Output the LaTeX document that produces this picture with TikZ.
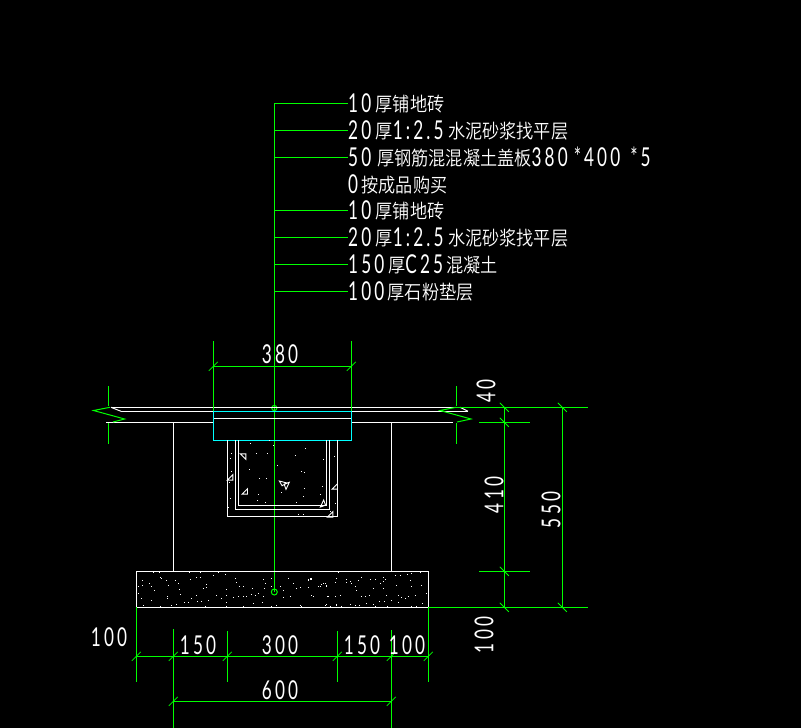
\documentclass[tikz,border=0pt]{standalone}
\usepackage{fontspec}
\newfontfamily\dgfont[FakeStretch=0.66,LetterSpace=12]{Lato}
\newfontfamily\zhfont[FakeStretch=0.88]{Noto Sans CJK SC DemiLight}
\newcommand{\dg}[1]{{\dgfont\fontsize{26}{26}\selectfont #1}}
\newcommand{\zh}[1]{\raisebox{1.5pt}{\zhfont\fontsize{19.5}{20}\selectfont #1}}
\tikzset{
  grn/.style={draw=green,line width=1pt},
  wht/.style={draw=white,line width=1pt},
  cyn/.style={draw=cyan,line width=1pt},
  labeltxt/.style={text=white,inner sep=0pt,anchor=base west},
  dimtxt/.style={text=white,inner sep=0pt,anchor=center},
  vdimtxt/.style={text=white,inner sep=0pt,anchor=center,rotate=90},
}
\definecolor{green}{RGB}{0,255,0}
\definecolor{cyan}{RGB}{0,255,255}
\newcommand{\tkA}[1]{\draw[grn,line width=.8pt] ($(#1)+(-4.5,4.5)$) -- ($(#1)+(4.5,-4.5)$);}
\newcommand{\tkB}[1]{\draw[grn,line width=.8pt] ($(#1)+(-4.5,-4.5)$) -- ($(#1)+(4.5,4.5)$);}
\usetikzlibrary{calc}
\begin{document}
\begin{tikzpicture}[x=1pt,y=-1pt]
\fill[black] (0,0) rectangle (801,728);
\useasboundingbox (0,0) rectangle (801,728);
% leaders
\foreach \n/\y in {1/103,2/130,3/157,4/210,5/237,6/264,7/291}{\coordinate (s\n) at (274.3,\y);}
\coordinate (stemb) at (274.3,592);
\coordinate (stemm) at (274.3,408);
\node[labeltxt] (l1) at (348,112.5) {\dg{10}\hspace{4.5pt}\zh{厚铺地砖}};
\node[labeltxt] (l2) at (348,139.5) {\dg{20}\hspace{4.5pt}\zh{厚}\dg{1:2.5}\hspace{4.5pt}\zh{水泥砂浆找平层}};
\node[labeltxt] (l3) at (348,166.5) {\dg{50}\hspace{6pt}\zh{厚钢筋混混凝土盖板}\dg{380}\hspace{6pt}\dg{*400}\hspace{10pt}\dg{*5}};
\node[labeltxt] (l3b) at (348,193.5) {\dg{0}\hspace{3.5pt}\zh{按成品购买}};
\node[labeltxt] (l4) at (348,219.5) {\dg{10}\hspace{4.5pt}\zh{厚铺地砖}};
\node[labeltxt] (l5) at (348,246.5) {\dg{20}\hspace{4.5pt}\zh{厚}\dg{1:2.5}\hspace{4.5pt}\zh{水泥砂浆找平层}};
\node[labeltxt] (l6) at (348,273.5) {\dg{150}\hspace{4pt}\zh{厚}\dg{C25}\hspace{3.5pt}\zh{混凝土}};
\node[labeltxt] (l7) at (348,300.5) {\dg{100}\hspace{3.5pt}\zh{厚石粉垫层}};
\draw[grn] (s1) -- (stemb);
\draw[grn] (s1) -- (s1 -| l1.west);
\draw[grn] (s2) -- (s2 -| l2.west);
\draw[grn] (s3) -- (s3 -| l3.west);
\draw[grn] (s4) -- (s4 -| l4.west);
\draw[grn] (s5) -- (s5 -| l5.west);
\draw[grn] (s6) -- (s6 -| l6.west);
\draw[grn] (s7) -- (s7 -| l7.west);
\draw[grn] (stemb) circle (3);
\draw[grn] (stemm) circle (2.6);
% slab
\draw[wht] (112,407.3) -- (458,407.3);
\draw[wht] (121,411.3) -- (213.3,411.3);
\draw[wht] (351.3,411.3) -- (468,411.3);
\draw[wht] (213.3,418.3) -- (351.3,418.3);
\draw[wht] (106,422.3) -- (213.3,422.3);
\draw[wht] (351.3,422.3) -- (453,422.3);
\draw[wht] (213.3,407.3) -- (213.3,411.3);
\draw[wht] (351.3,407.3) -- (351.3,411.3);
\draw[wht] (111,407.3) -- (121,411.3);
\draw[wht] (460,407.3) -- (468,411.3);
\draw[cyn] (213.3,411.3) -- (213.3,440.3) -- (351.3,440.3) -- (351.3,411.3) -- cycle;
% walls
\draw[wht] (173.3,422.3) -- (173.3,571.3);
\draw[wht] (391.3,422.3) -- (391.3,571.3);
% trough
\draw[wht] (227.3,440.3) |- (337.7,516.3) -- (337.7,440.3);
\draw[wht] (235.3,440.3) |- (329.7,509.3) -- (329.7,440.3);
\draw[wht] (238.3,440.3) |- (326.3,505.3) -- (326.3,440.3);
\foreach \x/\y in {106/40,49/70,45/85,124/70,157/70,49/125,43/157,103/118,133/145,154/145,187/106,241/76,271/55,325/88,259/124,268/127,358/79,268/175,199/187,130/193,127/211,151/217,46/205,244/217,265/199,322/169,316/193,361/220,250/253,265/253,346/244,40/232,175/46,163/31}
  \fill[white] ({215+\x/3-.5},{430+\y/3-.5}) rectangle ++(1,1);
\foreach \x/\y/\a in {85/79/90,46/143/0,90/185/0,204/157/300,217/167/200,322/221/20,360/170/0,346/254/0}
  \draw[white,line width=.9pt,rotate around={\a:({215+\x/3},{430+\y/3})}] ({215+\x/3+2.5},{430+\y/3-3}) -- ({215+\x/3-3},{430+\y/3+2.5}) -- ({215+\x/3+2.5},{430+\y/3+2.5}) -- cycle;
% base
\draw[wht] (136.3,571.3) rectangle (428.3,607.3);
\foreach \x/\y in {220/97,238/97,328/97,360/97,415/97,435/102,400/106,240/112,245/115,260/122,285/122,330/118,350/112,360/112,465/115,470/127,478/139,490/140,188/120,175/138,188/135,208/130,215/140,222/151,265/135,295/130,298/148,300/163,380/132,378/143,370/145,440/148,518/145,535/160,515/162,525/166,575/115,550/118,555/130,575/140,552/145,600/140,610/150,625/115,640/130,650/145,660/142,690/118,685/120,695/115,720/140,730/130,738/135,745/168,175/160,185/175,215/182,262/168,262/175,350/165,335/176,352/184,365/183,385/181,312/188,325/186,290/193,275/195,240/200,190/195,440/165,425/175,410/165,438/188,460/172,475/170,490/168,500/170,550/170,548/188,520/190,490/198,440/198,375/198,660/195,665/200,737/195,770/195,630/168,610/172,700/168,590/195,575/198}
  \fill[white] ({80+\x/3-.5},{540+\y/3-.5}) rectangle ++(1,1);
\foreach \x/\y in {30/115,25/118,35/118,110/115,140/118,150/125,155/130,138/128,185/112,175/120,210/118,225/118,240/130,250/112,255/118,250/125,285/105,300/105,322/103,335/100,360/97,115/97,75/130,65/133,55/140,78/140,105/128,165/140,170/152,25/143,220/145,250/145,290/137,330/120,335/138,365/135,35/165,82/168,120/167,105/168,185/168,208/166,195/170,258/166,295/167,305/172,315/175,325/168,345/165,380/160,80/193,90/198,110/193,125/198,150/193,165/196,178/195,200/190,220/193,225/198,238/183,252/183,275/180,295/187,262/198,335/198,350/198,367/190,0/143}
  \fill[white] ({300+\x/3-.5},{540+\y/3-.5}) rectangle ++(1,1);
% break marks
\draw[grn] (108.3,386) -- (108.3,406);
\draw[grn] (108.3,423) -- (108.3,443.7);
\draw[grn] (110,407.3) -- (93.5,410.5) -- (124.6,419) -- (113,422);
\draw[grn] (456.3,386) -- (456.3,406);
\draw[grn] (456.3,423) -- (456.3,443.7);
\draw[grn] (456,407.3) -- (440,410.5) -- (471,419) -- (457,422);
% top dimension 380
\coordinate (a1) at (213.3,366.3); \coordinate (a2) at (351.3,366.3);
\draw[grn] (213.3,341) -- (213.3,411.3);
\draw[grn] (351.3,341) -- (351.3,411.3);
\draw[grn] (a1) -- (a2);
\tkA{a1} \tkA{a2}
\node[dimtxt] (t380) at (280,354) {\dg{380}};
% bottom dimensions
\coordinate (b0) at (136.3,656.3); \coordinate (b1) at (173.3,656.3); \coordinate (b2) at (227.3,656.3);
\coordinate (b3) at (337.3,656.3); \coordinate (b4) at (391.3,656.3); \coordinate (b5) at (428.3,656.3);
\coordinate (c1) at (173.3,701.3); \coordinate (c2) at (391.3,701.3);
\draw[grn] (136.3,607.3) -- (136.3,681.7);
\draw[grn] (428.3,607.3) -- (428.3,681.7);
\draw[grn] (173.3,629) -- (173.3,728);
\draw[grn] (391.3,630) -- (391.3,728);
\draw[grn] (227.3,631) -- (227.3,681.7);
\draw[grn] (337.3,631) -- (337.3,681.7);
\draw[grn] (b0) -- (b5);
\draw[grn] (c1) -- (c2);
\foreach \c in {b0,b1,b2,b3,b4,b5,c1,c2}{\tkA{\c}}
\node[dimtxt] (t100a) at (109,637) {\dg{100}};
\node[dimtxt] (t150a) at (198,645) {\dg{150}};
\node[dimtxt] (t300) at (280,645) {\dg{300}};
\node[dimtxt] (t150b) at (362,645) {\dg{150}};
\node[dimtxt] (t100b) at (407,645) {\dg{100}};
\node[dimtxt] (t600) at (280,690) {\dg{600}};
% right dimensions
\coordinate (d1) at (504.3,407.3); \coordinate (d2) at (504.3,422.3); \coordinate (d3) at (504.3,571.3);
\coordinate (d4) at (504.3,607.3); \coordinate (e1) at (562.3,407.3); \coordinate (e2) at (562.3,607.3);
\draw[grn] (456.3,407.3) -- (587.7,407.3);
\draw[grn] (428.3,607.3) -- (587.7,607.3);
\draw[grn] (479,422.3) -- (530,422.3);
\draw[grn] (479,571.3) -- (530,571.3);
\draw[grn] (d1) -- (d4);
\draw[grn] (e1) -- (e2);
\foreach \c in {d1,d2,d3,d4,e1,e2}{\tkB{\c}}
\node[vdimtxt] (t40) at (486,391) {\dg{40}};
\node[vdimtxt] (t410) at (494,495) {\dg{410}};
\node[vdimtxt] (t550) at (551,510) {\dg{550}};
\node[vdimtxt] (t100c) at (484,635) {\dg{100}};
\end{tikzpicture}
\end{document}
